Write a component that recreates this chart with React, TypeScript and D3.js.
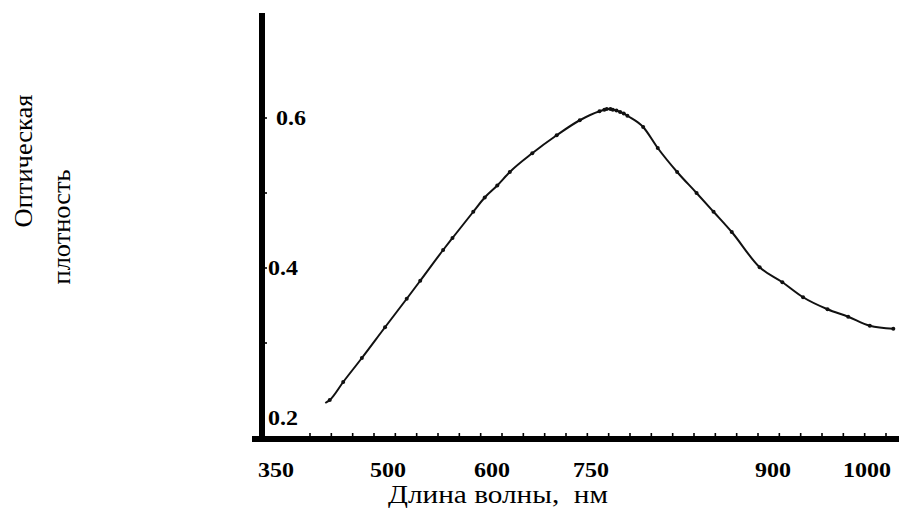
import { useEffect, useRef } from "react"
import * as d3 from "d3"

// wavelength labels on the x axis (the original axis is not evenly spaced)
const xTickLabels = [350, 500, 600, 750, 900, 1000]
const yTickLabels = [0.2, 0.4, 0.6]
const yMinorTicks = [0.3, 0.4, 0.5, 0.6]

// measured points, nm
const wavelength = [
  416, 422, 440, 465, 496, 518, 531, 553, 562, 582, 593, 608, 627, 661, 698, 733,
  757, 761, 763, 766, 768, 771, 774, 777, 780, 793, 805, 821, 837, 851, 866, 889,
  910, 932, 958, 980, 1003, 1028,
]
// optical density
const density = [
  0.22, 0.224, 0.248, 0.28, 0.321, 0.359, 0.383, 0.424, 0.44, 0.475, 0.494, 0.51, 0.528, 0.553, 0.577, 0.597,
  0.609, 0.611, 0.612, 0.612, 0.611, 0.61, 0.608, 0.606, 0.603, 0.588, 0.56, 0.528, 0.5, 0.475, 0.448, 0.401,
  0.381, 0.361, 0.345, 0.335, 0.323, 0.319,
]

export default function App() {
  const svgRef = useRef<SVGSVGElement>(null)

  useEffect(() => {
    document.body.style.margin = "0"
    if (!svgRef.current) return
    const svg = d3.select(svgRef.current)
    svg.selectAll("*").remove()

    const width = 899
    const height = 508
    const axisX = 262
    const axisY = 439

    // piecewise scale, follows the uneven labels of the original
    const x = d3.scaleLinear().domain(xTickLabels).range([276, 388, 492, 591, 773, 867])
    const y = d3.scaleLinear().domain([0.2, 0.6]).range([418, 118])

    const font = "Liberation Serif, DejaVu Serif, serif"

    svg.append("rect").attr("width", width).attr("height", height).attr("fill", "#fff")

    // axes
    svg.append("line")
      .attr("x1", axisX).attr("x2", axisX)
      .attr("y1", 13).attr("y2", axisY + 3)
      .attr("stroke", "#000").attr("stroke-width", 6)
    svg.append("line")
      .attr("x1", 252).attr("x2", width)
      .attr("y1", axisY).attr("y2", axisY)
      .attr("stroke", "#000").attr("stroke-width", 6)

    // small ticks on x axis, evenly spaced
    const tickPos = d3.scaleLinear().domain([0, 27]).range([310, 886])
    svg.append("g")
      .selectAll("line")
      .data(d3.range(28))
      .enter()
      .append("line")
      .attr("x1", (d) => tickPos(d)).attr("x2", (d) => tickPos(d))
      .attr("y1", axisY - 6).attr("y2", axisY)
      .attr("stroke", "#000").attr("stroke-width", 1.6)

    // small ticks on y axis
    svg.append("g")
      .selectAll("line")
      .data(yMinorTicks)
      .enter()
      .append("line")
      .attr("x1", axisX).attr("x2", axisX + 5)
      .attr("y1", (d) => y(d)).attr("y2", (d) => y(d))
      .attr("stroke", "#000").attr("stroke-width", 1.6)

    // tick labels (the original lettering is a bit wide)
    svg.append("g")
      .selectAll("text")
      .data(xTickLabels)
      .enter()
      .append("text")
      .attr("x", (d) => x(d))
      .attr("y", 477)
      .attr("text-anchor", "middle")
      .attr("textLength", (d) => String(d).length * 12)
      .attr("lengthAdjust", "spacingAndGlyphs")
      .style("font-family", font)
      .style("font-weight", "bold")
      .style("font-size", "21px")
      .text((d) => d)

    svg.append("g")
      .selectAll("text")
      .data(yTickLabels)
      .enter()
      .append("text")
      .attr("x", (d) => (d === 0.6 ? 276 : 268))
      .attr("y", (d) => y(d) + 7)
      .attr("textLength", 30)
      .attr("lengthAdjust", "spacingAndGlyphs")
      .style("font-family", font)
      .style("font-weight", "bold")
      .style("font-size", "21px")
      .text((d) => d.toFixed(1))

    // axis titles
    svg.append("text")
      .attr("x", 498).attr("y", 503)
      .attr("text-anchor", "middle")
      .attr("textLength", 220)
      .attr("lengthAdjust", "spacingAndGlyphs")
      .style("font-family", font)
      .style("font-size", "26px")
      .style("white-space", "pre")
      .text("Длина волны,  нм")

    svg.append("text")
      .attr("transform", "translate(32, 161) rotate(-90)")
      .attr("text-anchor", "middle")
      .attr("textLength", 133)
      .attr("lengthAdjust", "spacingAndGlyphs")
      .style("font-family", font)
      .style("font-size", "26px")
      .text("Оптическая")
    svg.append("text")
      .attr("transform", "translate(70, 227) rotate(-90)")
      .attr("text-anchor", "middle")
      .attr("textLength", 115)
      .attr("lengthAdjust", "spacingAndGlyphs")
      .style("font-family", font)
      .style("font-size", "26px")
      .text("плотность")

    // curve
    const pts = wavelength.map((w, i) => [w, density[i]] as [number, number])
    const line = d3.line<[number, number]>()
      .x((d) => x(d[0]))
      .y((d) => y(d[1]))
      .curve(d3.curveMonotoneX)

    svg.append("path")
      .datum(pts)
      .attr("d", line)
      .attr("fill", "none")
      .attr("stroke", "#111")
      .attr("stroke-width", 2)

    svg.append("g")
      .selectAll("circle")
      .data(pts.slice(1))
      .enter()
      .append("circle")
      .attr("cx", (d) => x(d[0]))
      .attr("cy", (d) => y(d[1]))
      .attr("r", 2)
      .attr("fill", "#111")
  }, [])

  return <svg ref={svgRef} width={899} height={508} style={{ display: "block" }} />
}
